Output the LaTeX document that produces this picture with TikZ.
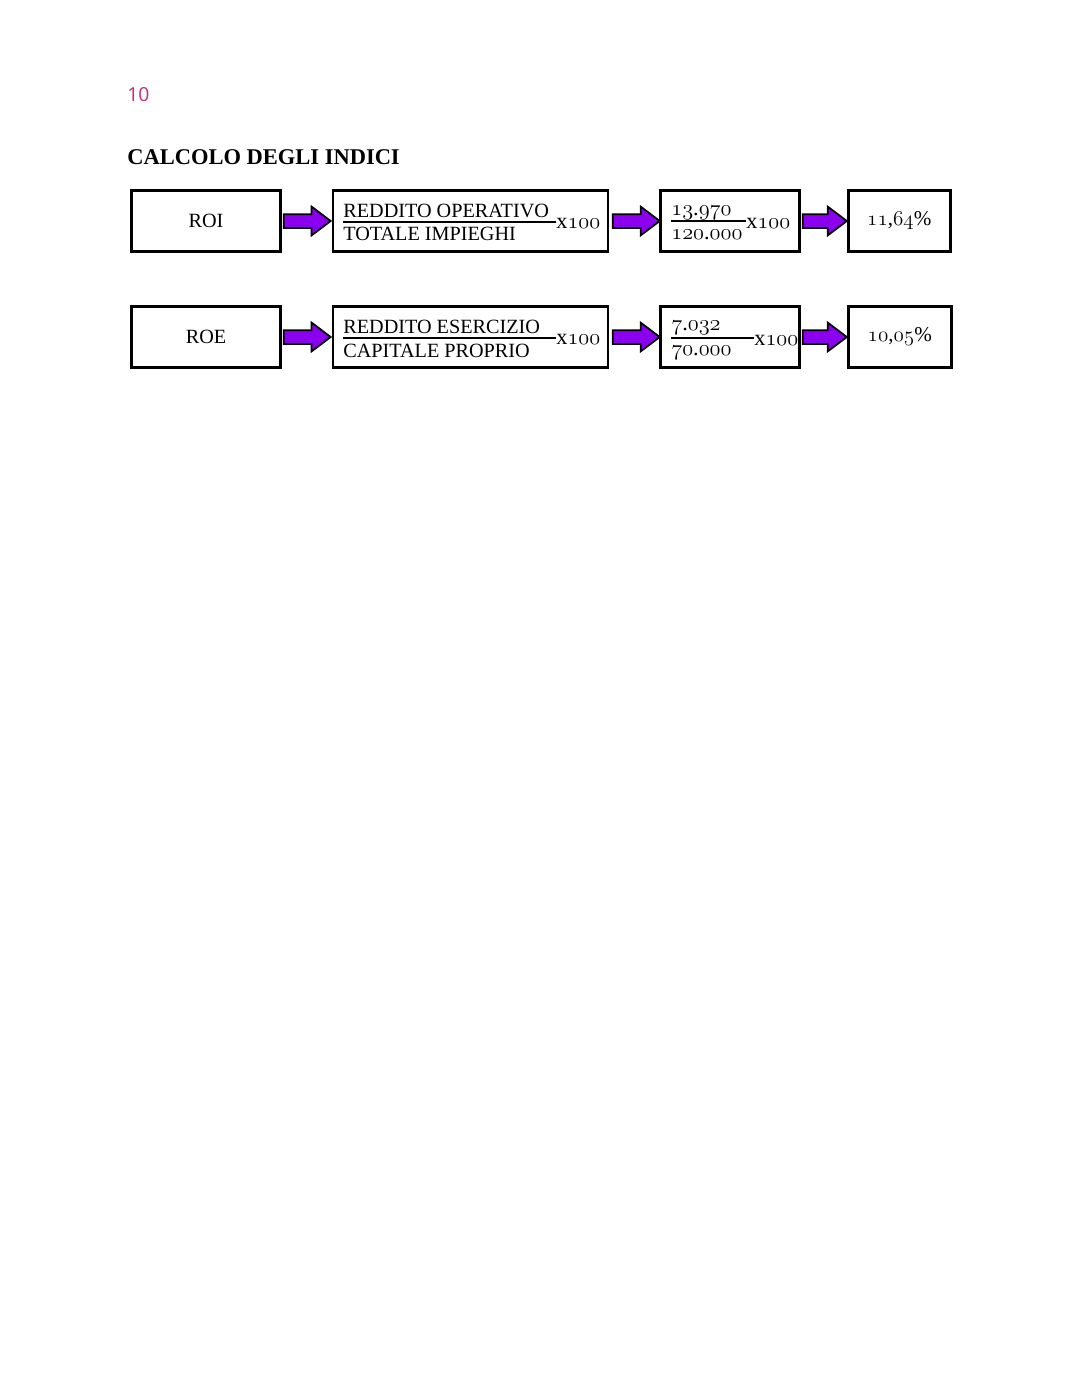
\RequirePackage{fix-cm}
\documentclass[tikz,border=0pt]{standalone}
\usepackage{fontspec}
\setmainfont{Liberation Serif}
\newfontfamily\pagefont{Open Sans}
\usepackage{tikz}
\usetikzlibrary{positioning}
\usetikzlibrary{shapes.arrows}
\usepackage{xcolor}
\definecolor{arrowviolet}{RGB}{140,0,240}
\definecolor{pagepink}{RGB}{200,40,130}
\newcommand{\osn}[1]{\ensuremath{\mathnormal{#1}}}

\begin{document}
\begin{tikzpicture}[x=0.02cm, y=-0.02cm,
    box/.style={draw, line width=1.5pt, minimum height=1.22cm, inner sep=0pt, font=\fontsize{11.5}{14}\selectfont},
    bigarrow/.style={single arrow, draw, fill=arrowviolet, line width=1pt, minimum height=0.94cm, inner xsep=0pt, inner ysep=0.12cm, single arrow head extend=0.15cm, single arrow tip angle=74},
    txt/.style={inner sep=0pt, anchor=base west, font=\fontsize{11.5}{14}\selectfont},
    numtxt/.style={txt, font=\fontsize{12.7}{15}\selectfont},
    fracrule/.style={line width=0.7pt}]
    \useasboundingbox (0,0) rectangle (1080,1397);
    \node[txt, text=pagepink, font=\pagefont\fontsize{11}{13}\selectfont] (page) at (127,101) {10};
    \node[txt, font=\fontsize{12.8}{15}\selectfont\bfseries] (title) at (127,164) {CALCOLO DEGLI INDICI};

    % ROI
    \node[box, minimum width=2.98cm] (roi) at (206,221) {ROI};
    \node[box, minimum width=5.5cm, right=1cm of roi] (roiformula) {};
    \node[box, minimum width=2.78cm, right=1cm of roiformula] (roivalues) {};
    \node[box, minimum width=2.04cm, font=\fontsize{12}{14}\selectfont, right=0.92cm of roivalues] (roiresult) {\osn{11},\osn{64}\%};
    \node[bigarrow, right=0.02cm of roi] (roiarrow1) {};
    \node[bigarrow, right=0.05cm of roiformula] (roiarrow2) {};
    \node[bigarrow, minimum height=0.88cm, right=0.02cm of roivalues] (roiarrow3) {};

    \node[txt] (roiup) at (343,217) {REDDITO OPERATIVO};
    \node[txt] (roidown) at (343,240) {TOTALE IMPIEGHI};
    \node[numtxt] (roix) at (556,228) {x\osn{100}};
    \coordinate (roibar) at (343,222);
    \draw[fracrule] (roibar) -- (roibar -| roix.west);

    \node[numtxt] (roiupval) at (671,215) {\osn{13}.\osn{970}};
    \node[numtxt] (roidownval) at (671,239) {\osn{120}.\osn{000}};
    \node[numtxt] (roixval) at (746,228) {x\osn{100}};
    \coordinate (roibarval) at (671,221);
    \draw[fracrule] (roibarval) -- (roibarval -| roixval.west);

    % ROE
    \node[box, minimum width=2.98cm] (roe) at (206,337) {ROE};
    \node[box, minimum width=5.5cm, right=1cm of roe] (roeformula) {};
    \node[box, minimum width=2.78cm, right=1cm of roeformula] (roevalues) {};
    \node[box, minimum width=2.06cm, font=\fontsize{12}{14}\selectfont, right=0.92cm of roevalues] (roeresult) {\osn{10},\osn{05}\%};
    \node[bigarrow, right=0.02cm of roe] (roearrow1) {};
    \node[bigarrow, right=0.05cm of roeformula] (roearrow2) {};
    \node[bigarrow, minimum height=0.88cm, right=0.02cm of roevalues] (roearrow3) {};

    \node[txt] (roeup) at (343,333) {REDDITO ESERCIZIO};
    \node[txt] (roedown) at (343,357) {CAPITALE PROPRIO};
    \node[numtxt] (roex) at (556,344) {x\osn{100}};
    \coordinate (roebar) at (343,338);
    \draw[fracrule] (roebar) -- (roebar -| roex.west);

    \node[numtxt] (roeupval) at (671,330) {\osn{7}.\osn{032}};
    \node[numtxt] (roedownval) at (671,355) {\osn{70}.\osn{000}};
    \node[numtxt] (roexval) at (754,345) {x\osn{100}};
    \coordinate (roebarval) at (671,338);
    \draw[fracrule] (roebarval) -- (roebarval -| roexval.west);
\end{tikzpicture}
\end{document}
